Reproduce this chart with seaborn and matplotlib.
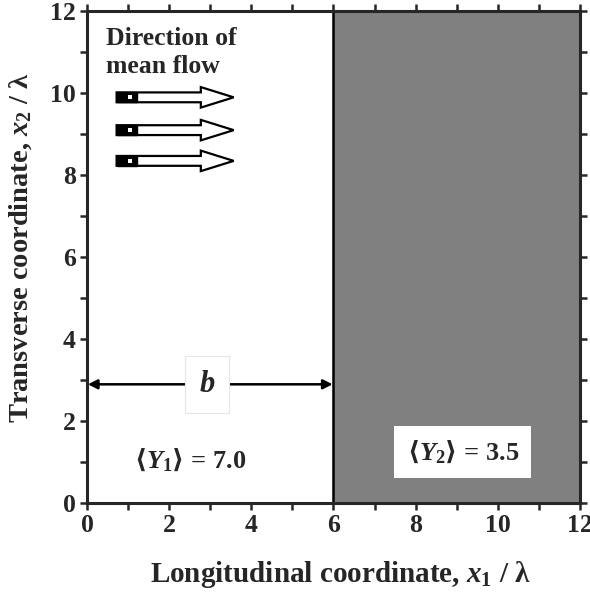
import matplotlib
matplotlib.use("Agg")
import matplotlib.pyplot as plt
import matplotlib.patches as mpatches
import seaborn as sns
import pandas as pd

# ---- data ----
domain_len = 12
boundary_x = 6
zones = ["Y1", "Y2"]
zone_start = [0, 6]
zone_end = [6, 12]
zone_mean = [7.0, 3.5]
zone_colors = ["white", "#808080"]
x_ticks = [0, 2, 4, 6, 8, 10, 12]
y_ticks = [0, 2, 4, 6, 8, 10, 12]
flow_arrow_y = [9.9, 9.1, 8.35]
flow_arrow_x0 = 0.72
flow_arrow_len = 2.85
b_arrow_y = 2.9

sns.set_theme(style="ticks")
FAM = ["Liberation Serif", "DejaVu Sans"]
plt.rcParams["font.family"] = FAM
plt.rcParams["font.weight"] = "bold"
plt.rcParams["mathtext.fontset"] = "custom"
plt.rcParams["mathtext.rm"] = "Liberation Serif:bold"
plt.rcParams["mathtext.it"] = "Liberation Serif:bold:italic"
plt.rcParams["mathtext.bf"] = "Liberation Serif:bold"
plt.rcParams["mathtext.sf"] = "DejaVu Sans"
plt.rcParams["mathtext.fallback"] = "stix"

fig = plt.figure(figsize=(5.9, 5.92), dpi=100)
ax = fig.add_axes([0.1475, 0.150, 0.983 - 0.1475, 0.981 - 0.150])

df = pd.DataFrame({"zone": zones, "start": zone_start, "end": zone_end,
                   "mean": zone_mean})

for s, e, c in zip(df["start"], df["end"], zone_colors):
    ax.axvspan(s, e, facecolor=c, edgecolor="none", zorder=0)
ax.axvline(boundary_x, color="black", lw=1.8, zorder=2)

ax.set_xlim(0, domain_len)
ax.set_ylim(0, domain_len)
ax.set_xticks(x_ticks)
ax.set_yticks(y_ticks)
ax.set_xticks(range(1, 12, 2), minor=True)
ax.set_yticks(range(1, 12, 2), minor=True)
ax.tick_params(which="both", direction="out", top=True, right=True,
               width=1.8, labelsize=18.5)
ax.tick_params(which="major", length=5)
ax.tick_params(which="minor", length=5)
for lab in ax.get_xticklabels() + ax.get_yticklabels():
    lab.set_fontweight("bold")
ax.tick_params(axis="x", pad=3, labeltop=False)
ax.tick_params(axis="y", pad=3, labelright=False)
for sp in ax.spines.values():
    sp.set_linewidth(2.2)
    sp.set_zorder(5)

ax.set_xlabel(r"Longitudinal coordinate, $x_1$ / λ", fontsize=21,
              fontweight="bold")
ax.set_ylabel(r"Transverse coordinate, $x_2$ / λ", fontsize=20.5,
              fontweight="bold")
ax.xaxis.set_label_coords(0.515, -0.113)
ax.yaxis.set_label_coords(-0.108, 0.52)

# flow direction text
ax.text(0.45, 11.62, "Direction of\nmean flow", fontsize=18.5, fontweight="bold",
        ha="left", va="top", linespacing=1.28)

# flow arrows
for yy in flow_arrow_y:
    ax.add_patch(mpatches.FancyArrow(flow_arrow_x0, yy, flow_arrow_len, 0,
                                     width=0.24, head_width=0.5,
                                     head_length=0.8, length_includes_head=True,
                                     facecolor="white", edgecolor="black",
                                     lw=1.6, zorder=3))
    ax.add_patch(mpatches.Rectangle((flow_arrow_x0, yy - 0.12), 0.5, 0.24,
                                    facecolor="black", edgecolor="black",
                                    lw=1.0, zorder=4))
    ax.add_patch(mpatches.Rectangle((flow_arrow_x0 + 0.27, yy - 0.05), 0.1, 0.1,
                                    facecolor="white", edgecolor="none",
                                    zorder=5))

# b arrow
ax.annotate("", xy=(0.02, b_arrow_y), xytext=(boundary_x - 0.02, b_arrow_y),
            arrowprops=dict(arrowstyle="<|-|>", color="black", lw=1.8,
                            mutation_scale=14, shrinkA=0, shrinkB=0), zorder=3)
ax.text(2.92, b_arrow_y, r"$b$", fontsize=22, ha="center", va="center",
        zorder=4,
        bbox=dict(boxstyle="square,pad=0.45", facecolor="white",
                  edgecolor="#e6e6e6", lw=0.8))

# zone means
ax.text(2.5, 1.05, r"$\mathsf{⟨}Y_1\mathsf{⟩}$ = %.1f" % df["mean"][0],
        fontsize=19, fontweight="bold", ha="center", va="center", zorder=4)
ax.text(9.15, 1.25, r"$\mathsf{⟨}Y_2\mathsf{⟩}$ = %.1f" % df["mean"][1],
        fontsize=19, fontweight="bold", ha="center", va="center", zorder=4,
        bbox=dict(boxstyle="square,pad=0.47", facecolor="white",
                  edgecolor="none"))

fig.savefig("out.png", dpi=100)
